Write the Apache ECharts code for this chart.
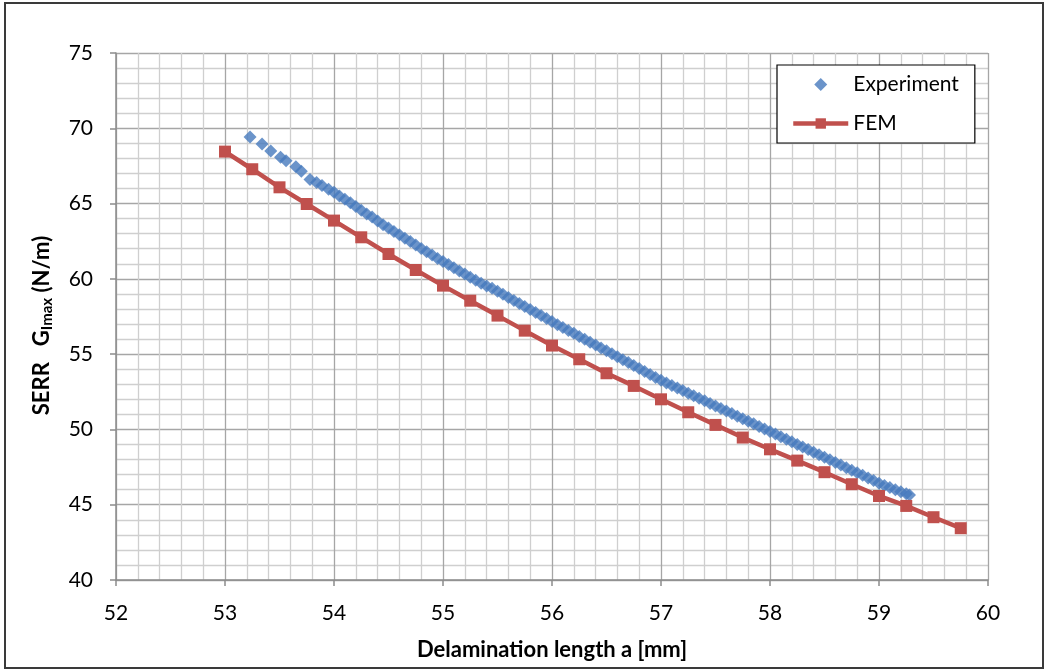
<!DOCTYPE html>
<html>
<head>
<meta charset="utf-8">
<script src="https://cdn.jsdelivr.net/npm/echarts@6/dist/echarts.min.js"></script>
<style>
  html, body { margin: 0; padding: 0; background: #fff; }
  #chart { width: 1046px; height: 670px; }
</style>
</head>
<body>
<div id="chart"></div>
<script>
// Measured delamination length (mm) and strain energy release rate (N/m)
const expX = [53.23, 53.34, 53.42, 53.51, 53.56, 53.65, 53.70, 53.78, 53.84, 53.89, 53.95, 54.00,
  54.05, 54.10, 54.15, 54.20, 54.25, 54.30, 54.35, 54.40, 54.45, 54.50, 54.55, 54.60, 54.65, 54.70,
  54.75, 54.80, 54.85, 54.90, 54.95, 55.00, 55.05, 55.10, 55.15, 55.20, 55.25, 55.30, 55.35, 55.40,
  55.45, 55.50, 55.55, 55.60, 55.65, 55.70, 55.75, 55.80, 55.85, 55.90, 55.95, 56.00, 56.05, 56.10,
  56.15, 56.20, 56.25, 56.30, 56.35, 56.40, 56.45, 56.50, 56.55, 56.60, 56.65, 56.70, 56.75, 56.80,
  56.85, 56.90, 56.95, 57.00, 57.05, 57.10, 57.15, 57.20, 57.25, 57.30, 57.35, 57.40, 57.45, 57.50,
  57.55, 57.60, 57.65, 57.70, 57.75, 57.80, 57.85, 57.90, 57.95, 58.00, 58.05, 58.10, 58.15, 58.20,
  58.25, 58.30, 58.35, 58.40, 58.45, 58.50, 58.55, 58.60, 58.65, 58.70, 58.75, 58.80, 58.85, 58.90,
  58.95, 59.00, 59.05, 59.10, 59.15, 59.20, 59.25, 59.28];
const expY = [69.42, 68.96, 68.49, 68.07, 67.85, 67.45, 67.15, 66.60, 66.40, 66.20, 65.95, 65.75,
  65.50, 65.28, 65.05, 64.80, 64.55, 64.30, 64.10, 63.85, 63.60, 63.38, 63.15, 62.93, 62.70, 62.48,
  62.25, 62.02, 61.80, 61.58, 61.36, 61.15, 60.95, 60.74, 60.52, 60.32, 60.10, 59.90, 59.70, 59.52,
  59.38, 59.18, 58.97, 58.77, 58.57, 58.36, 58.16, 57.96, 57.76, 57.56, 57.36, 57.16, 56.96, 56.77,
  56.57, 56.38, 56.18, 55.99, 55.79, 55.60, 55.40, 55.22, 55.02, 54.83, 54.63, 54.44, 54.24, 54.04,
  53.85, 53.65, 53.45, 53.26, 53.09, 52.92, 52.75, 52.58, 52.41, 52.24, 52.07, 51.90, 51.73, 51.56,
  51.39, 51.22, 51.05, 50.88, 50.71, 50.54, 50.37, 50.20, 50.03, 49.86, 49.69, 49.52, 49.35, 49.18,
  49.00, 48.83, 48.66, 48.49, 48.32, 48.15, 47.98, 47.80, 47.63, 47.46, 47.29, 47.12, 46.95, 46.78,
  46.60, 46.43, 46.28, 46.14, 46.00, 45.86, 45.73, 45.65];

// Finite element model results
const femX = [53.00, 53.25, 53.50, 53.75, 54.00, 54.25, 54.50, 54.75, 55.00, 55.25, 55.50, 55.75, 56.00, 56.25,
  56.50, 56.75, 57.00, 57.25, 57.50, 57.75, 58.00, 58.25, 58.50, 58.75, 59.00, 59.25, 59.50, 59.75];
const femY = [68.45, 67.28, 66.08, 64.97, 63.87, 62.76, 61.65, 60.59, 59.55, 58.55, 57.56, 56.56, 55.57, 54.66,
  53.73, 52.89, 52.00, 51.14, 50.30, 49.46, 48.68, 47.93, 47.16, 46.36, 45.58, 44.92, 44.17, 43.44];

const seriesNames = ['Experiment', 'FEM'];
const xTitle = 'Delamination length a [mm]';

const FONT = 'Lato, "Open Sans", sans-serif';
const pairs = (xs, ys) => xs.map((x, i) => [x, ys[i]]);

const majorGrid = { color: '#a6a6a6', width: 1.3 };
const minorGrid = { color: '#cfcfcf', width: 1.3 };

const chart = echarts.init(document.getElementById('chart'), null, { renderer: 'canvas' });
chart.setOption({
  backgroundColor: '#ffffff',
  animation: false,
  textStyle: { fontFamily: FONT },
  graphic: [{
    type: 'rect',
    shape: { x: 5, y: 3, width: 1038, height: 665 },
    style: { fill: 'none', stroke: '#3a3a3a', lineWidth: 2 },
    z: 100
  }],
  grid: { left: 116, right: 58, top: 53, bottom: 90 },
  legend: {
    orient: 'vertical',
    left: 777,
    top: 65,
    width: 199,
    padding: [9, 16, 9, 14],
    itemGap: 18,
    itemWidth: 55,
    itemHeight: 13,
    backgroundColor: '#ffffff',
    borderColor: '#000000',
    borderWidth: 1.2,
    borderRadius: 0,
    lineStyle: { width: 4.5 },
    textStyle: { fontFamily: FONT, fontSize: 21, color: '#000' },
    data: [
      { name: seriesNames[0], icon: 'path://M5,0L10,5L5,10L0,5Z' },
      { name: seriesNames[1] }
    ]
  },
  xAxis: {
    type: 'value',
    min: 52, max: 60, interval: 1,
    name: xTitle,
    nameLocation: 'middle',
    nameGap: 59,
    nameTextStyle: { fontFamily: FONT, fontSize: 22, fontWeight: 'bold', color: '#000' },
    axisLine: { show: true, onZero: false, lineStyle: { color: '#8c8c8c', width: 1.5 } },
    axisTick: { show: true, inside: false, length: 6, lineStyle: { color: '#8c8c8c', width: 1.5 } },
    axisLabel: { margin: 23, fontSize: 21, color: '#000', fontFamily: FONT },
    splitLine: { show: true, lineStyle: majorGrid },
    minorTick: { show: false, splitNumber: 5 },
    minorSplitLine: { show: true, lineStyle: minorGrid }
  },
  yAxis: {
    type: 'value',
    min: 40, max: 75, interval: 5,
    name: '{b|SERR   G}{s|Imax}{b| (N/m)}',
    nameLocation: 'middle',
    nameRotate: 90,
    nameGap: 61,
    nameTextStyle: {
      fontFamily: FONT, color: '#000',
      padding: [0, 18, 0, 0],
      rich: {
        b: { fontFamily: FONT, fontSize: 22, fontWeight: 'bold', color: '#000' },
        s: { fontFamily: FONT, fontSize: 15, fontWeight: 'bold', color: '#000', verticalAlign: 'bottom', padding: [11, 0, 0, 0] }
      }
    },
    axisLine: { show: true, onZero: false, lineStyle: { color: '#8c8c8c', width: 1.5 } },
    axisTick: { show: true, inside: false, length: 6, lineStyle: { color: '#8c8c8c', width: 1.5 } },
    axisLabel: { margin: 23, fontSize: 21, color: '#000', fontFamily: FONT },
    splitLine: { show: true, lineStyle: majorGrid },
    minorTick: { show: false, splitNumber: 5 },
    minorSplitLine: { show: true, lineStyle: minorGrid }
  },
  series: [
    {
      name: seriesNames[0],
      type: 'scatter',
      symbol: 'diamond',
      symbolSize: [13, 13],
      itemStyle: { color: '#4679bd' },
      data: pairs(expX, expY),
      z: 2
    },
    {
      name: seriesNames[1],
      type: 'line',
      symbol: 'rect',
      symbolSize: 12,
      showAllSymbol: true,
      lineStyle: { color: '#c0504d', width: 4.5 },
      itemStyle: { color: '#c0504d' },
      data: pairs(femX, femY),
      z: 3
    }
  ]
});
</script>
</body>
</html>
